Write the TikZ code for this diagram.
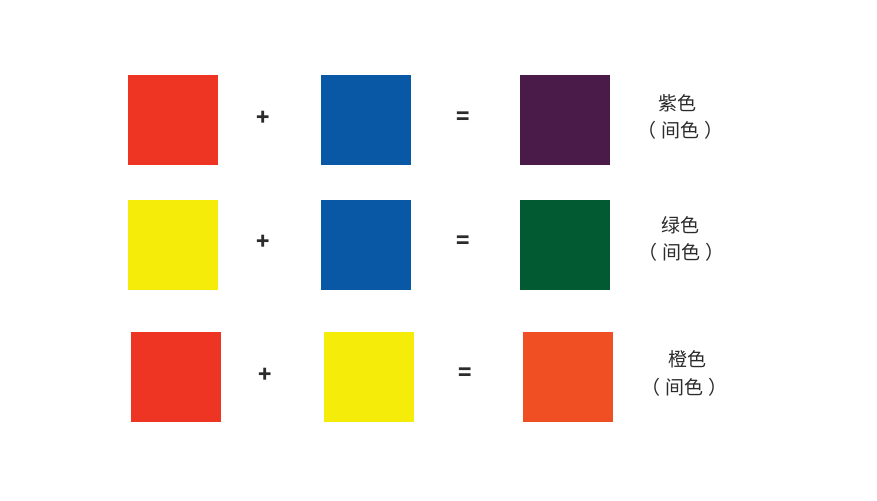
\documentclass[tikz,border=0pt]{standalone}
\usepackage{fontspec}
\setmainfont{Noto Sans CJK SC}
\definecolor{cred}{HTML}{EE3524}
\definecolor{cblue}{HTML}{0858A6}
\definecolor{cpurple}{HTML}{4A1A48}
\definecolor{cyellow}{HTML}{F6EC0A}
\definecolor{cgreen}{HTML}{025A32}
\definecolor{corange}{HTML}{F04E23}
\definecolor{ctext}{HTML}{2B2B2B}
\newcommand{\jianse}{（\hspace{5pt}间色\hspace{5pt}）}
\begin{document}
\begin{tikzpicture}[x=1pt,y=-1pt,
  sq/.style={minimum size=90pt,inner sep=0pt,outer sep=0pt,anchor=north west},
  op/.style={text=ctext,font=\fontsize{22}{22}\selectfont\bfseries,inner sep=0pt},
  lbl/.style={text=ctext,font=\fontsize{19}{19}\selectfont,inner sep=0pt}]
\useasboundingbox[fill=white] (0,0) rectangle (877,500);
% row 1
\node[sq,fill=cred] (r1a) at (128,75) {};
\node[op] (r1p) at (263,118) {+};
\node[sq,fill=cblue] (r1b) at (321,75) {};
\node[op] (r1e) at (463,118) {=};
\node[sq,fill=cpurple] (r1c) at (520,75) {};
\node[lbl] (r1t) at (677,103) {紫色};
\node[lbl] (r1s) at (680,130) {\jianse};
% row 2
\node[sq,fill=cyellow] (r2a) at (128,200) {};
\node[op] (r2p) at (263,242) {+};
\node[sq,fill=cblue] (r2b) at (321,200) {};
\node[op] (r2e) at (463,242) {=};
\node[sq,fill=cgreen] (r2c) at (520,200) {};
\node[lbl] (r2t) at (680,225) {绿色};
\node[lbl] (r2s) at (681,252) {\jianse};
% row 3
\node[sq,fill=cred] (r3a) at (131,332) {};
\node[op] (r3p) at (265,375) {+};
\node[sq,fill=cyellow] (r3b) at (324,332) {};
\node[op] (r3e) at (465,374) {=};
\node[sq,fill=corange] (r3c) at (523,332) {};
\node[lbl] (r3t) at (687,359) {橙色};
\node[lbl] (r3s) at (684,387) {\jianse};
\end{tikzpicture}
\end{document}
